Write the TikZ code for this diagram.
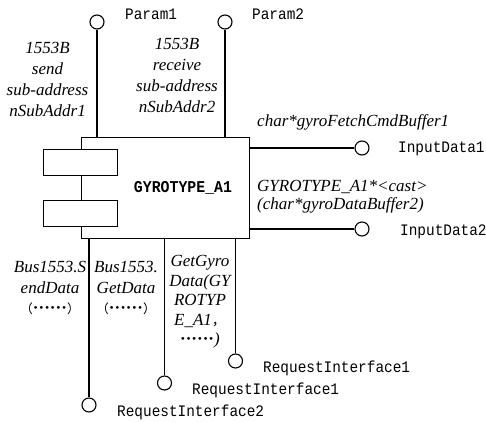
\documentclass[tikz,border=0pt]{standalone}
\usepackage{fontspec}
\setmainfont{Liberation Serif}
\newfontfamily\monof[FakeStretch=0.9]{Liberation Mono}
\newfontfamily\cjk{Noto Sans CJK SC}
\newcommand{\mydots}{{\upshape\bfseries ······}}
\begin{document}
\begin{tikzpicture}[x=1pt,y=-1pt,
  lbl/.style={font=\fontsize{17}{21}\selectfont\itshape, align=center, inner sep=0pt},
  mono/.style={font=\monof\fontsize{16}{18}\selectfont, inner sep=0pt, anchor=base west},
  port/.style={circle, draw, minimum size=14pt, inner sep=0pt, fill=white, line width=1.1pt},
  stick/.style={line width=1.2pt},
  part/.style={draw, fill=white, line width=0.9pt, minimum width=74pt, minimum height=26pt, inner sep=0pt}]
\useasboundingbox (0,0) rectangle (486,422);
% main box
\node[draw, line width=0.9pt, minimum width=168pt, minimum height=101pt, inner sep=0pt, outer sep=0pt, anchor=north west] (box) at (81,137) {};
\node[part] (part1) at (80,162) {};
\node[part] (part2) at (80,213.5) {};
\node[font=\monof\bfseries\fontsize{16.5}{18}\selectfont, inner sep=0pt] (title) at (183,188) {GYROTYPE\_A1};
% ports
\node[port] (p1) at (97,22) {};
\node[port] (p2) at (225,22) {};
\node[port] (in1) at (362,148) {};
\node[port] (in2) at (362,229) {};
\node[port] (r2) at (89,405) {};
\node[port] (r1a) at (164.5,383) {};
\node[port] (r1b) at (235.5,361) {};
% connectors
\draw[stick] (p1) -- (p1 |- box.north);
\draw[stick] (p2) -- (p2 |- box.north);
\draw[stick] (box.east |- in1) -- (in1);
\draw[stick] (box.east |- in2) -- (in2);
\draw[stick] (box.south -| r2) -- (r2);
\draw[stick] (box.south -| r1a) -- (r1a);
\draw[stick] (box.south -| r1b) -- (r1b);
% port names
\node[mono] (t1) at (125,20) {Param1};
\node[mono] (t2) at (252,20) {Param2};
\node[mono] (t3) at (398,153) {InputData1};
\node[mono] (t4) at (400,235) {InputData2};
\node[mono] (t5) at (263,372) {RequestInterface1};
\node[mono] (t6) at (192,394) {RequestInterface1};
\node[mono] (t7) at (117,416) {RequestInterface2};
% italic labels
\node[lbl] (l1) at (47.5,79.5) {1553B\\send\\sub-address\\nSubAddr1};
\node[lbl] (l2) at (177,75.5) {1553B\\receive\\sub-address\\nSubAddr2};
\node[font=\fontsize{17}{21}\selectfont\itshape, inner sep=0pt, anchor=base west] (l3) at (257,127) {char*gyroFetchCmdBuffer1};
\node[font=\fontsize{17}{18}\selectfont\itshape, align=left, inner sep=0pt, anchor=west] (l4) at (257,197) {GYROTYPE\_A1*<cast>\\(char*gyroDataBuffer2)};
\node[font=\fontsize{17}{20.5}\selectfont\itshape, align=center, inner sep=0pt] (l5) at (50,288) {Bus1553.S\\endData\\{\cjk\fontsize{12.5}{14}\selectfont （}\mydots{\cjk\fontsize{12.5}{14}\selectfont ）}};
\node[font=\fontsize{17}{20.5}\selectfont\itshape, align=center, inner sep=0pt] (l6) at (126,288) {Bus1553.\\GetData\\{\cjk\fontsize{12.5}{14}\selectfont （}\mydots{\cjk\fontsize{12.5}{14}\selectfont ）}};
\node[font=\fontsize{17}{19.5}\selectfont\itshape, align=center, inner sep=0pt] (l7) at (200,302) {GetGyro\\Data(GY\\ROTYP\\E\_A1{\cjk\upshape\fontsize{14}{14}\selectfont ，}\\\mydots)};
\end{tikzpicture}
\end{document}
